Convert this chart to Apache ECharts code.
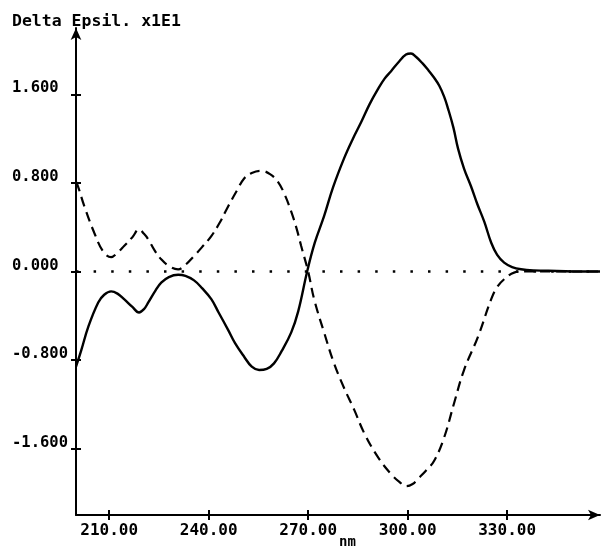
<!DOCTYPE html>
<html>
<head>
<meta charset="utf-8">
<script src="https://cdn.jsdelivr.net/npm/echarts@6/dist/echarts.min.js"></script>
<style>
html,body{margin:0;padding:0;background:#fff;}
#c{width:604px;height:549px;}
</style>
</head>
<body>
<div id="c"></div>
<script>
const yTitle = 'Delta Epsil. x1E1';
const xTitle = 'nm';
const xTicks = [210, 240, 270, 300, 330];
const yTicks = [-1.6, -0.8, 0, 0.8, 1.6];

const solidX = [200,201.6,203.7,206.7,208.5,210.6,212.5,214.5,217,219,220.5,221.8,224,225.7,228,230.8,233,235.6,238,240.8,243,245.9,248,250.7,253,255.2,257.5,259.7,262,264.9,267,269.7,272,274.8,277.5,280.8,283.5,286,288.5,291.1,293,295,297.5,299.5,301,302.5,304.5,306.2,308,309.5,311,312.2,313.8,315.2,317,319.1,321,323.1,325.2,327,329.1,331.5,334.2,338,345,352,358];
const solidY = [-0.86,-0.71,-0.50,-0.28,-0.21,-0.18,-0.20,-0.25,-0.32,-0.37,-0.34,-0.28,-0.17,-0.10,-0.05,-0.03,-0.04,-0.08,-0.15,-0.25,-0.37,-0.53,-0.65,-0.77,-0.86,-0.89,-0.88,-0.83,-0.72,-0.55,-0.36,0.00,0.26,0.50,0.76,1.02,1.20,1.35,1.51,1.65,1.74,1.81,1.90,1.96,1.97,1.94,1.88,1.82,1.75,1.68,1.58,1.47,1.30,1.11,0.93,0.77,0.61,0.45,0.26,0.15,0.08,0.04,0.02,0.01,0.005,0.0,0.0];

const dashX = [200,200.6,202.5,205.5,208.2,210.6,212.5,214.5,217,219,220.5,221.8,223.7,225.7,228,230.8,233,235.6,238,240.8,243.5,245.9,248.5,250.7,253,255.8,258.5,260.9,263,264.9,266.5,267.9,270,271.8,274.8,277.8,280.8,283.9,286.9,291.1,295,297.5,299.5,301.5,303.2,305.5,308,311,314,317,321.2,325.2,327,329.1,332.1,335,358];
const dashY = [0.81,0.77,0.59,0.35,0.18,0.13,0.17,0.23,0.31,0.38,0.34,0.29,0.19,0.11,0.05,0.02,0.06,0.14,0.22,0.32,0.45,0.59,0.73,0.84,0.89,0.91,0.88,0.81,0.69,0.54,0.39,0.23,0.00,-0.25,-0.55,-0.83,-1.05,-1.25,-1.46,-1.68,-1.83,-1.90,-1.94,-1.92,-1.87,-1.80,-1.71,-1.50,-1.19,-0.89,-0.59,-0.25,-0.14,-0.07,-0.01,0.0,0.0];

const zeroX = [200, 358];
const zeroY = [0, 0];

const zip = (a, b) => a.map((v, i) => [v, b[i]]);
const FONT = 'DejaVu Sans Mono';

const chart = echarts.init(document.getElementById('c'), null, {renderer: 'canvas'});
const axisCommon = {
  type: 'value',
  splitLine: {show: false}
};
chart.setOption({
  backgroundColor: '#fff',
  animation: false,
  grid: {left: 76, right: 4, top: 28, bottom: 34},
  xAxis: [
    Object.assign({}, axisCommon, {
      min: 200, max: 358,
      axisLine: {show: true, onZero: false, lineStyle: {color: '#000', width: 2}, symbol: ['none', 'arrow'], symbolSize: [8, 12]},
      axisTick: {show: true, customValues: xTicks, length: 5, lineStyle: {color: '#000', width: 2}},
      axisLabel: {customValues: xTicks, formatter: v => v.toFixed(2), fontFamily: FONT, fontWeight: 'bold', fontSize: 16, color: '#000', margin: 8}
    }),
    Object.assign({}, axisCommon, {
      min: 200, max: 358, position: 'bottom',
      axisLine: {show: false, onZero: false},
      axisTick: {show: true, inside: true, customValues: xTicks, length: 5, lineStyle: {color: '#000', width: 2}},
      axisLabel: {show: false}
    })
  ],
  yAxis: [
    Object.assign({}, axisCommon, {
      min: -2.2, max: 2.2,
      axisLine: {show: true, onZero: false, lineStyle: {color: '#000', width: 2}, symbol: ['none', 'arrow'], symbolSize: [8, 12]},
      axisTick: {show: true, customValues: yTicks, length: 5, lineStyle: {color: '#000', width: 2}},
      axisLabel: {customValues: yTicks, formatter: v => v.toFixed(3), fontFamily: FONT, fontWeight: 'bold', fontSize: 15.5, color: '#000', margin: 64, align: 'left', verticalAlign: 'bottom', lineHeight: 12}
    }),
    Object.assign({}, axisCommon, {
      min: -2.2, max: 2.2, position: 'left',
      axisLine: {show: false, onZero: false},
      axisTick: {show: true, inside: true, customValues: yTicks, length: 5, lineStyle: {color: '#000', width: 2}},
      axisLabel: {show: false}
    })
  ],
  series: [
    {
      type: 'line', data: zip(zeroX, zeroY), symbol: 'none', z: 1,
      lineStyle: {color: '#000', width: 2.5, type: [2.5, 15.1], cap: 'butt'}
    },
    {
      type: 'line', data: zip(dashX, dashY), symbol: 'none', smooth: 0.4, z: 2,
      lineStyle: {color: '#000', width: 2.2, type: [10, 6]}
    },
    {
      type: 'line', data: zip(solidX, solidY), symbol: 'none', smooth: 0.4, z: 3,
      lineStyle: {color: '#000', width: 2.4}
    }
  ],
  graphic: [
    {type: 'text', left: 12, top: 13, style: {text: yTitle, font: 'bold 16.5px "DejaVu Sans Mono"', fill: '#000'}},
    {type: 'text', left: 339, top: 535, style: {text: xTitle, font: 'bold 14px "DejaVu Sans Mono"', fill: '#000'}}
  ]
});
</script>
</body>
</html>
